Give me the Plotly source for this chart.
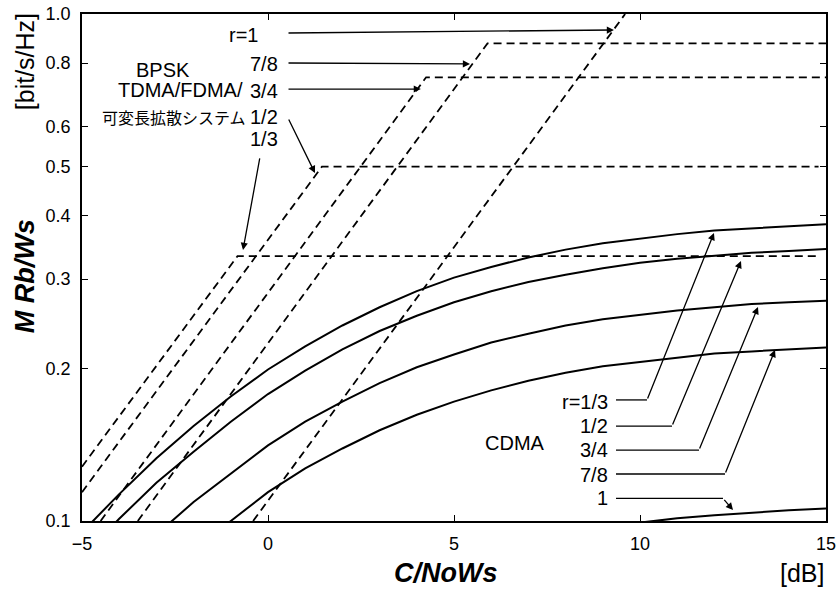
import numpy as np
import plotly.graph_objects as go

# ---------------- data ----------------
# CDMA curves: M Rb/Ws vs C/NoWs [dB]
cdma_x = [-5, -4, -3, -2, -1, 0, 1, 2, 3, 4, 5, 6, 7, 8, 9, 10, 11, 12, 13, 14, 15]
cdma_r13 = [0.095, 0.113, 0.133, 0.154, 0.176, 0.199, 0.221, 0.243, 0.264, 0.284, 0.302,
            0.317, 0.331, 0.343, 0.353, 0.361, 0.368, 0.374, 0.378, 0.382, 0.385]
cdma_r12 = [0.085, 0.101, 0.119, 0.137, 0.157, 0.178, 0.198, 0.218, 0.237, 0.254, 0.270,
            0.284, 0.296, 0.306, 0.315, 0.323, 0.329, 0.334, 0.338, 0.341, 0.344]
cdma_r34 = [0.068, 0.080, 0.094, 0.109, 0.124, 0.141, 0.157, 0.172, 0.187, 0.201, 0.213,
            0.225, 0.234, 0.243, 0.250, 0.255, 0.260, 0.264, 0.268, 0.270, 0.272]
cdma_r78 = [0.055, 0.065, 0.076, 0.088, 0.100, 0.114, 0.127, 0.139, 0.151, 0.162, 0.172,
            0.181, 0.189, 0.196, 0.202, 0.206, 0.210, 0.214, 0.216, 0.218, 0.220]
cdma_r1 = [0.026, 0.031, 0.037, 0.042, 0.048, 0.055, 0.061, 0.067, 0.073, 0.078, 0.083,
           0.087, 0.091, 0.094, 0.097, 0.0993, 0.1012, 0.1027, 0.1040, 0.1050, 0.1058]

# BPSK (TDMA/FDMA/variable spreading) curves: rise then saturate at code rate r
bpsk_r13_x = [-5, -0.82, 14.8]
bpsk_r13_y = [0.128, 0.333, 0.333]
bpsk_r12_x = [-5, 1.45, 14.8]
bpsk_r12_y = [0.114, 0.5, 0.5]
bpsk_r34_x = [-4.5, 4.25, 15]
bpsk_r34_y = [0.1, 0.75, 0.75]
bpsk_r78_x = [-3.5, 5.9, 15]
bpsk_r78_y = [0.1, 0.875, 0.875]
bpsk_r1_x = [-0.4, 9.6]
bpsk_r1_y = [0.1, 1.0]

x_ticks = [-5, 0, 5, 10, 15]
y_ticks = [0.1, 0.2, 0.3, 0.4, 0.5, 0.6, 0.8, 1.0]
y_ticktext = ["0.1", "0.2", "0.3", "0.4", "0.5", "0.6", "0.8", "1.0"]

# leader lines (label -> curve)
bpsk_lbl = ["r=1", "7/8", "3/4", "1/2", "1/3"]
bpsk_tail_x = [0.511, 0.511, 0.511, 0.538, -0.215]
bpsk_tail_y = [0.9173, 0.8006, 0.7112, 0.6237, 0.5224]
bpsk_tip_x = [9.30, 5.43, 4.11, 1.263, -0.672]
bpsk_tip_y = [0.9299, 0.7970, 0.7112, 0.4857, 0.3424]

cdma_lbl = ["r=1/3", "1/2", "3/4", "7/8", "1"]
cdma_tail_x = [9.355, 9.355, 9.355, 9.355, 9.355]
cdma_corner_x = [10.188, 10.86, 11.586, 12.285, 12.231]
cdma_corner_y = [0.1733, 0.1539, 0.1380, 0.1238, 0.1108]
cdma_tip_x = [11.989, 12.715, 13.172, 13.629, 12.5]
cdma_tip_y = [0.3698, 0.3258, 0.2643, 0.2174, 0.1051]

# ---------------- figure ----------------
FONT = "Liberation Sans, Arial, Helvetica, sans-serif"
fig = go.Figure()

solid = dict(color="black", width=2)
dashed = dict(color="black", width=1.8, dash="8px,5px")

for y in [cdma_r13, cdma_r12, cdma_r34, cdma_r78, cdma_r1]:
    fig.add_trace(go.Scatter(x=cdma_x, y=y, mode="lines", line=solid,
                             showlegend=False, hoverinfo="skip"))

for bx, by in [(bpsk_r13_x, bpsk_r13_y), (bpsk_r12_x, bpsk_r12_y),
               (bpsk_r34_x, bpsk_r34_y), (bpsk_r78_x, bpsk_r78_y),
               (bpsk_r1_x, bpsk_r1_y)]:
    fig.add_trace(go.Scatter(x=bx, y=by, mode="lines", line=dashed,
                             showlegend=False, hoverinfo="skip"))

# CDMA leader horizontal segments
for i in range(len(cdma_lbl)):
    fig.add_trace(go.Scatter(x=[cdma_tail_x[i], cdma_corner_x[i]],
                             y=[cdma_corner_y[i], cdma_corner_y[i]],
                             mode="lines", line=dict(color="black", width=1.3),
                             showlegend=False, hoverinfo="skip"))

annotations = []
# arrows (log axis -> log10 coordinates)
for i in range(len(bpsk_lbl)):
    annotations.append(dict(x=bpsk_tip_x[i], y=np.log10(bpsk_tip_y[i]),
                            ax=bpsk_tail_x[i], ay=np.log10(bpsk_tail_y[i]),
                            xref="x", yref="y", axref="x", ayref="y",
                            text="", showarrow=True, arrowhead=2, arrowsize=1.1,
                            arrowwidth=1.3, arrowcolor="black", standoff=0,
                            startstandoff=0))
for i in range(len(cdma_lbl)):
    annotations.append(dict(x=cdma_tip_x[i], y=np.log10(cdma_tip_y[i]),
                            ax=cdma_corner_x[i], ay=np.log10(cdma_corner_y[i]),
                            xref="x", yref="y", axref="x", ayref="y",
                            text="", showarrow=True, arrowhead=2, arrowsize=1.1,
                            arrowwidth=1.3, arrowcolor="black", standoff=0,
                            startstandoff=0))

def label(text, x, y, xanchor="right", size=20, family=FONT):
    annotations.append(dict(x=x, y=np.log10(y), xref="x", yref="y", text=text,
                            showarrow=False, xanchor=xanchor, yanchor="middle",
                            font=dict(family=family, size=size, color="black")))

# BPSK labels
label("r=1", -0.215, 0.911)
label("7/8", 0.323, 0.797)
label("3/4", 0.323, 0.705)
label("1/2", 0.323, 0.625)
label("1/3", 0.323, 0.566)
label("BPSK", -2.82, 0.775, xanchor="center")
label("TDMA/FDMA/", -0.62, 0.707)
label("可変長拡散システム", -0.53, 0.625, size=16,
      family="Noto Sans CJK JP, sans-serif")
# CDMA labels
label("r=1/3", 9.194, 0.1719)
label("1/2", 9.194, 0.1539)
label("3/4", 9.194, 0.1380)
label("7/8", 9.194, 0.1232)
label("1", 9.194, 0.1110)
label("CDMA", 6.65, 0.1422, xanchor="center")

# axis titles
annotations.append(dict(x=0.489, y=-0.103, xref="paper", yref="paper",
                        text="<b><i>C/NoWs</i></b>", showarrow=False,
                        xanchor="center", yanchor="middle",
                        font=dict(family=FONT, size=27, color="black")))
annotations.append(dict(x=1.0, y=-0.103, xref="paper", yref="paper",
                        text="[dB]", showarrow=False,
                        xanchor="right", yanchor="middle",
                        font=dict(family=FONT, size=25, color="black")))
annotations.append(dict(x=-0.0766, y=0.483, xref="paper", yref="paper",
                        text="<b><i>M Rb/Ws</i></b>", showarrow=False,
                        textangle=-90, xanchor="center", yanchor="middle",
                        font=dict(family=FONT, size=27, color="black")))
annotations.append(dict(x=-0.0766, y=0.905, xref="paper", yref="paper",
                        text="[bit/s/Hz]", showarrow=False,
                        textangle=-90, xanchor="center", yanchor="middle",
                        font=dict(family=FONT, size=25, color="black")))

fig.update_layout(
    width=840, height=594,
    margin=dict(l=82, r=14, t=14, b=73),
    paper_bgcolor="white", plot_bgcolor="white",
    font=dict(family=FONT, size=18, color="black"),
    annotations=annotations,
    showlegend=False,
)
fig.update_xaxes(range=[-5, 15], tickvals=x_ticks, ticks="inside", ticklen=6,
                 tickwidth=1.2, tickcolor="black", showline=True, linecolor="black",
                 linewidth=1.5, mirror="ticks", showgrid=False, zeroline=False,
                 tickfont=dict(size=18), ticklabelstandoff=6, automargin=False)
fig.update_yaxes(type="log", range=[-1, 0], tickvals=y_ticks, ticktext=y_ticktext,
                 ticks="inside", ticklen=6, tickwidth=1.2, tickcolor="black",
                 showline=True, linecolor="black", linewidth=1.5, mirror="ticks",
                 showgrid=False, zeroline=False, tickfont=dict(size=18),
                 ticklabelstandoff=6, automargin=False)

fig.write_html("out.html",
               config={"displayModeBar": False},
               post_script="document.body.style.margin='0';"
                           "document.body.style.overflow='hidden';")
